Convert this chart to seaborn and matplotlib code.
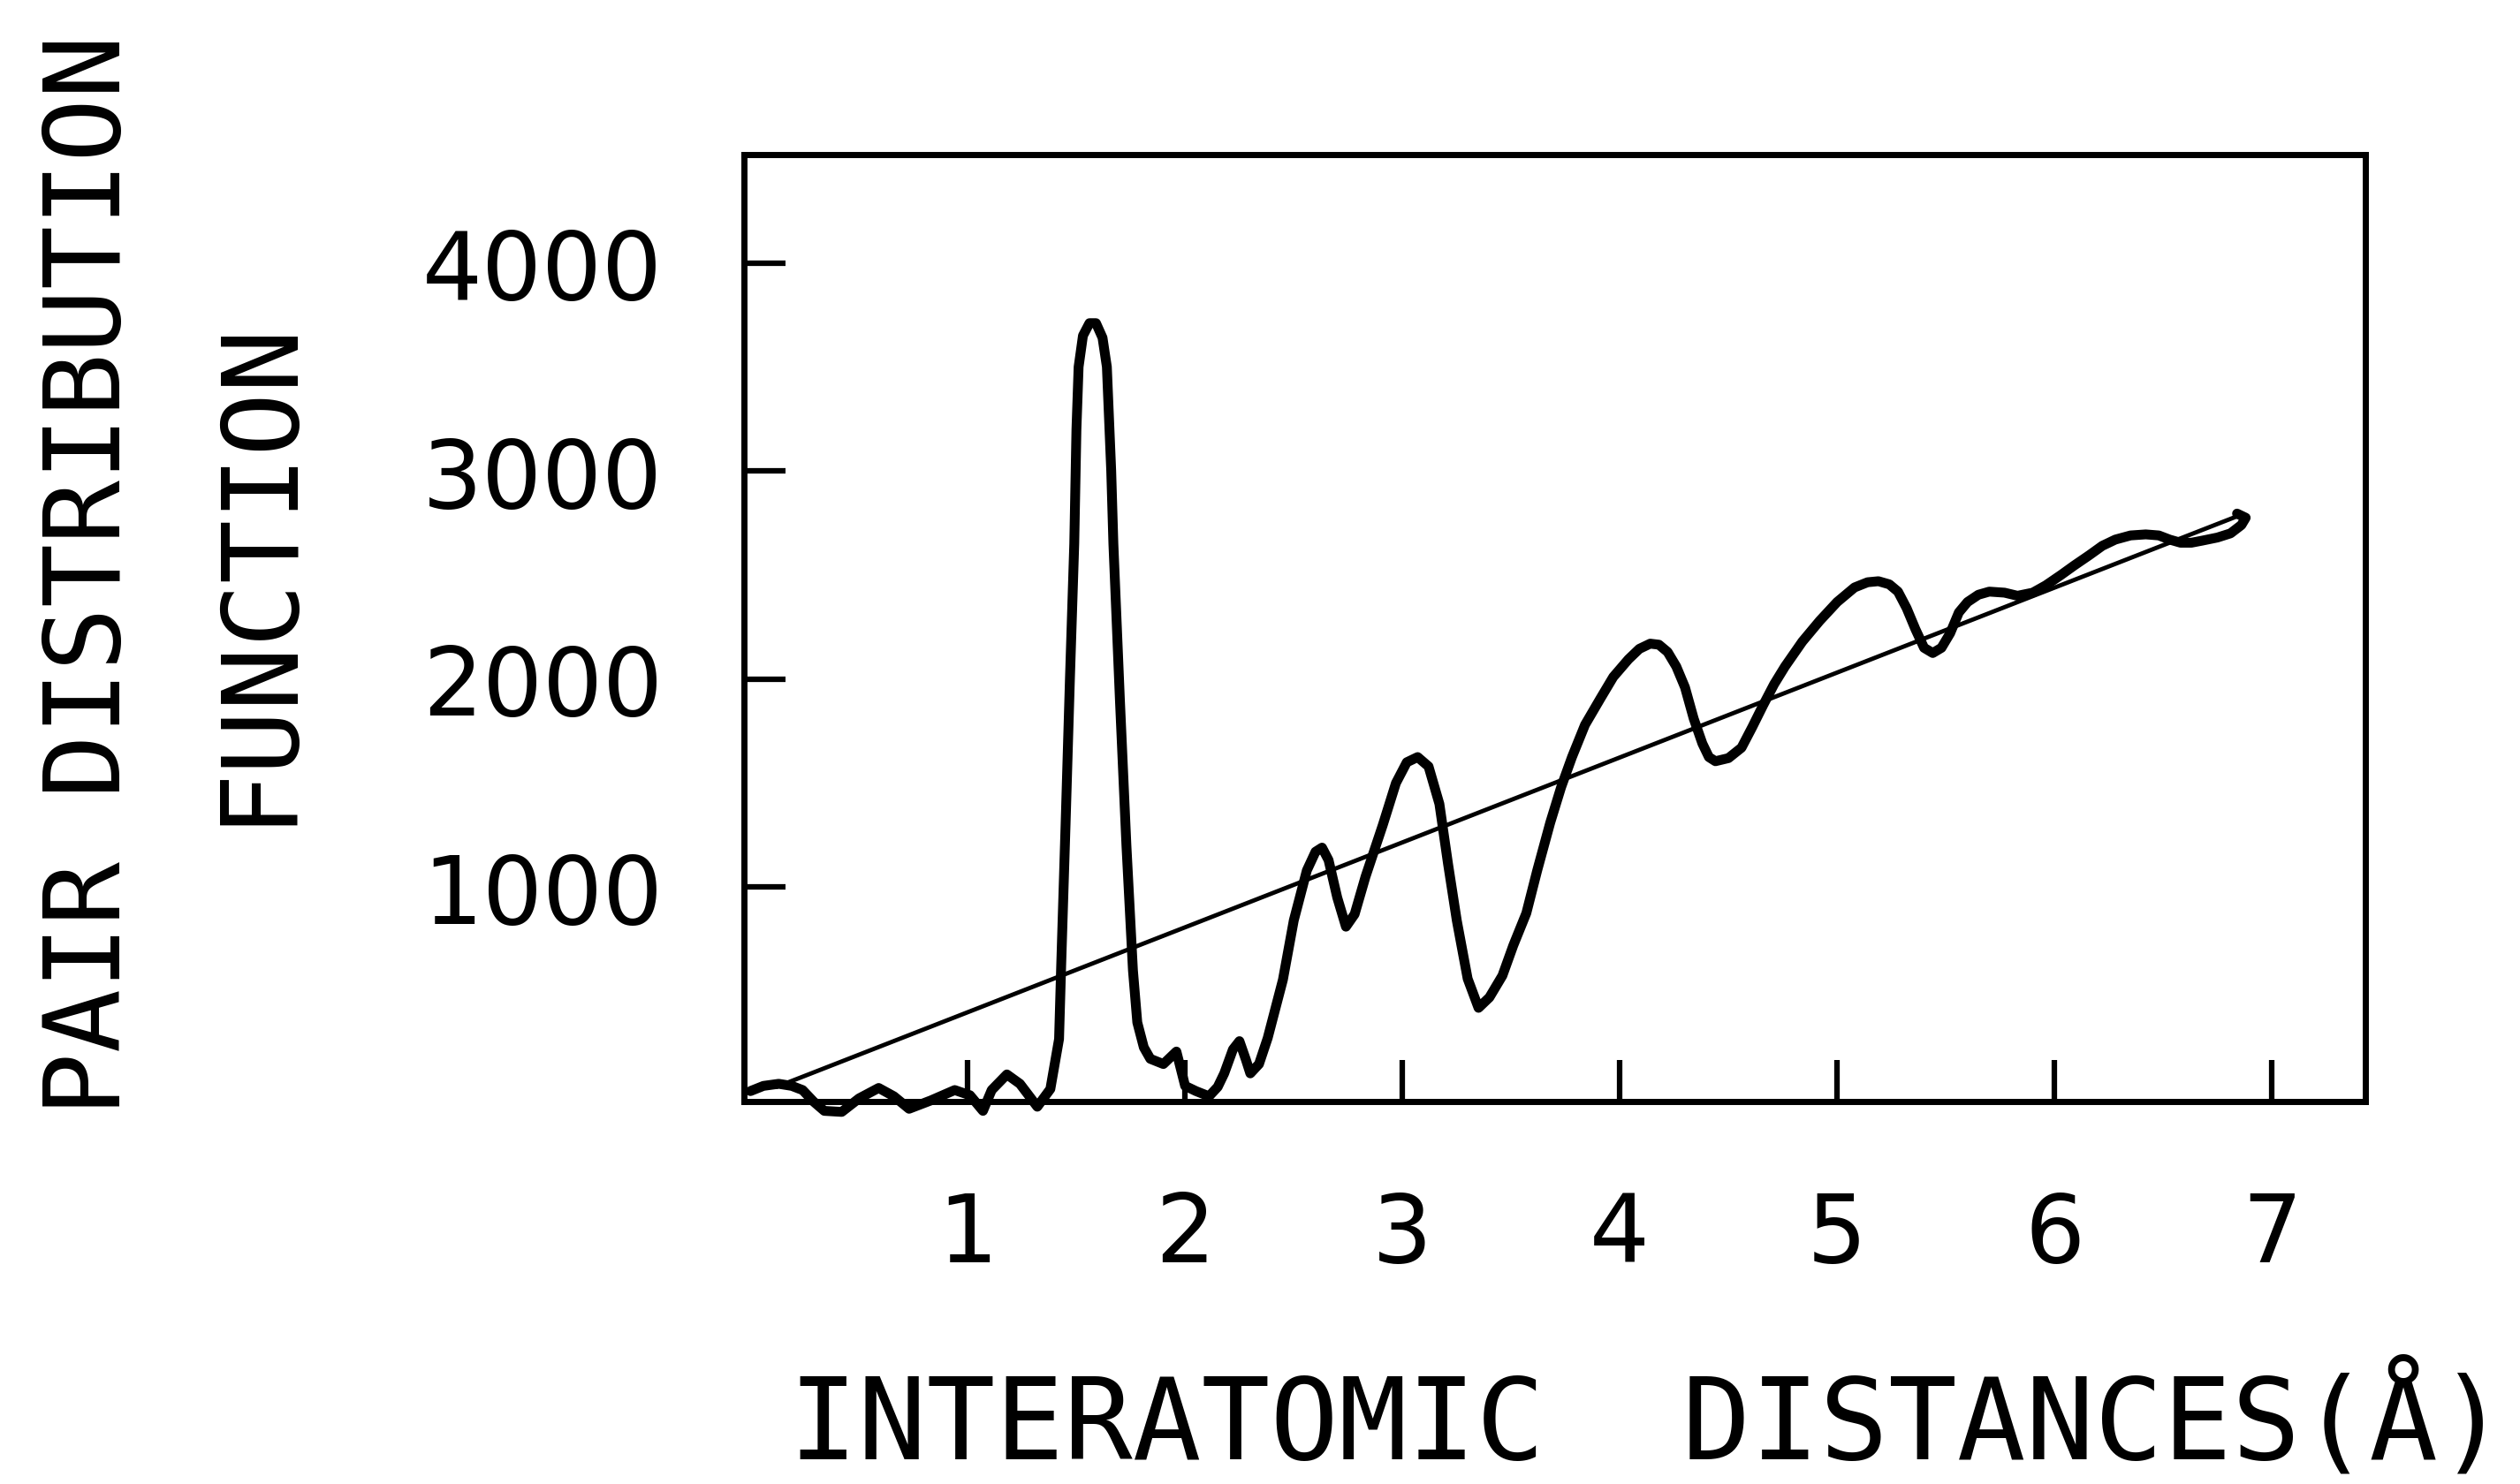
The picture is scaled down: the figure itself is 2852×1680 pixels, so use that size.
import matplotlib
matplotlib.use("Agg")
import matplotlib.pyplot as plt
import seaborn as sns
import pandas as pd

# ---- data ----
r_curve = [0.00, 0.06, 0.13, 0.19, 0.24, 0.29, 0.34, 0.42, 0.50, 0.59, 0.66, 0.73, 0.83,
           0.94, 1.01, 1.07, 1.11, 1.18, 1.24, 1.32, 1.38, 1.42, 1.43, 1.45, 1.47, 1.49,
           1.50, 1.51, 1.53, 1.56, 1.59, 1.62, 1.64, 1.66, 1.67, 1.70, 1.73, 1.76, 1.78,
           1.81, 1.84, 1.90, 1.96, 2.00, 2.05, 2.11, 2.15, 2.18, 2.22, 2.25, 2.28, 2.30,
           2.34, 2.38, 2.45, 2.50, 2.56, 2.60, 2.63, 2.66, 2.70, 2.74, 2.78, 2.83, 2.91,
           2.97, 3.02, 3.07, 3.12, 3.17, 3.21, 3.25, 3.30, 3.35, 3.40, 3.46, 3.51, 3.57,
           3.62, 3.68, 3.73, 3.78, 3.84, 3.91, 3.97, 4.04, 4.09, 4.14, 4.18, 4.22, 4.26,
           4.30, 4.34, 4.38, 4.41, 4.44, 4.50, 4.56, 4.61, 4.66, 4.71, 4.76, 4.84, 4.92,
           5.00, 5.08, 5.14, 5.19, 5.24, 5.28, 5.32, 5.36, 5.40, 5.44, 5.48, 5.52, 5.56,
           5.60, 5.65, 5.70, 5.77, 5.83, 5.90, 5.96, 6.03, 6.09, 6.16, 6.22, 6.28, 6.35,
           6.42, 6.48, 6.53, 6.58, 6.63, 6.68, 6.75, 6.81, 6.86, 6.88, 6.84]
g_curve = [20, 45, 55, 45, 25, -30, -75, -80, -15, 35, -5, -65, -25,
           25, 0, -75, 25, 100, 55, -55, 30, 270, 630, 1300, 2000, 2650,
           3200, 3500, 3650, 3710, 3710, 3640, 3500, 3000, 2650, 1900, 1200, 600, 350,
           230, 175, 150, 210, 45, 20, -5, 40, 105, 220, 260, 170, 105,
           150, 275, 555, 840, 1080, 1170, 1190, 1130, 950, 810, 870, 1050, 1300,
           1500, 1600, 1625, 1580, 1400, 1110, 840, 560, 420, 470, 575, 720, 875,
           1080, 1310, 1480, 1625, 1780, 1905, 2010, 2095, 2145, 2170, 2165, 2130, 2060,
           1960, 1810, 1690, 1625, 1605, 1620, 1670, 1770, 1875, 1975, 2060, 2180, 2280,
           2370, 2440, 2465, 2470, 2455, 2420, 2340, 2240, 2150, 2125, 2150, 2220, 2320,
           2370, 2405, 2420, 2415, 2400, 2415, 2450, 2500, 2545, 2595, 2640, 2670, 2690,
           2695, 2690, 2670, 2655, 2655, 2665, 2680, 2700, 2740, 2775, 2795]
r_line = [0.12, 6.86]
g_line = [40, 2790]

x_ticks = [1, 2, 3, 4, 5, 6, 7]
y_ticks = [1000, 2000, 3000, 4000]

curve_df = pd.DataFrame({"r": r_curve, "g": g_curve})
line_df = pd.DataFrame({"r": r_line, "g": g_line})

sns.set_theme(style="white")
plt.rcParams["font.family"] = ["DejaVu Sans"]

fig = plt.figure(figsize=(28.52, 16.81), dpi=100)
ax = fig.add_axes([0.2952, 0.2576, 0.6434, 0.6377])

sns.lineplot(data=line_df, x="r", y="g", ax=ax, color="black", linewidth=3.5, sort=False)
sns.lineplot(data=curve_df, x="r", y="g", ax=ax, color="black", linewidth=8, sort=False)
for ln in ax.lines:
    ln.set_clip_on(False)
    ln.set_solid_joinstyle("round")
    ln.set_solid_capstyle("round")

ax.set_xlim(-0.03, 7.43)
ax.set_ylim(-30, 4520)
ax.set_xticks(x_ticks)
ax.set_yticks(y_ticks)
ax.set_xticklabels([str(t) for t in x_ticks])
ax.set_yticklabels([str(t) for t in y_ticks])
ax.tick_params(axis="both", direction="in", length=34, width=4.5, color="black",
               labelsize=77, labelcolor="black", bottom=True, left=True,
               top=False, right=False)
ax.tick_params(axis="x", pad=72)
ax.tick_params(axis="y", pad=66)
for s in ax.spines.values():
    s.set_visible(True)
    s.set_color("black")
    s.set_linewidth(5)
ax.set_xlabel("")
ax.set_ylabel("")
ax.grid(False)

fig.text(0.036, 0.613, "PAIR DISTRIBUTION", rotation=90, ha="center", va="center",
         fontsize=86, family="DejaVu Sans Mono", color="black")
fig.text(0.102, 0.616, "FUNCTION", rotation=90, ha="center", va="center",
         fontsize=86, family="DejaVu Sans Mono", color="black")
fig.text(0.654, 0.042, "INTERATOMIC  DISTANCES(Å)", ha="center", va="center",
         fontsize=93, family="DejaVu Sans Mono", color="black")

fig.savefig("out.png", dpi=100, facecolor="white")
